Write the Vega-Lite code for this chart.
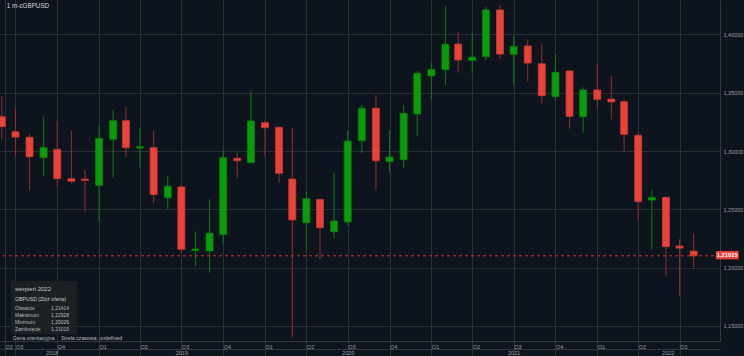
{
  "$schema": "https://vega.github.io/schema/vega-lite/v6.json",
  "width": 720,
  "height": 341,
  "autosize": "none",
  "padding": {"left": 0, "top": 0, "right": 24, "bottom": 15},
  "background": "#0e141d",
  "config": {"view": {"stroke": null}, "font": "Liberation Sans"},
  "data": {"values": [
    {"date": "2018-06-01T00:00", "open": 1.3295, "high": 1.3472, "low": 1.3101, "close": 1.3209},
    {"date": "2018-07-01T00:00", "open": 1.3166, "high": 1.3367, "low": 1.2960, "close": 1.3120},
    {"date": "2018-08-01T00:00", "open": 1.3118, "high": 1.3146, "low": 1.2660, "close": 1.2952},
    {"date": "2018-09-01T00:00", "open": 1.2943, "high": 1.3295, "low": 1.2786, "close": 1.3029},
    {"date": "2018-10-01T00:00", "open": 1.3015, "high": 1.3258, "low": 1.2694, "close": 1.2763},
    {"date": "2018-11-01T00:00", "open": 1.2763, "high": 1.3175, "low": 1.2723, "close": 1.2741},
    {"date": "2018-12-01T00:00", "open": 1.2760, "high": 1.2838, "low": 1.2475, "close": 1.2749},
    {"date": "2019-01-01T00:00", "open": 1.2706, "high": 1.3217, "low": 1.2394, "close": 1.3109},
    {"date": "2019-02-01T00:00", "open": 1.3101, "high": 1.3352, "low": 1.2772, "close": 1.3260},
    {"date": "2019-03-01T00:00", "open": 1.3260, "high": 1.3380, "low": 1.2946, "close": 1.3029},
    {"date": "2019-04-01T00:00", "open": 1.3026, "high": 1.3195, "low": 1.2861, "close": 1.3037},
    {"date": "2019-05-01T00:00", "open": 1.3029, "high": 1.3175, "low": 1.2557, "close": 1.2626},
    {"date": "2019-06-01T00:00", "open": 1.2600, "high": 1.2786, "low": 1.2503, "close": 1.2698},
    {"date": "2019-07-01T00:00", "open": 1.2692, "high": 1.2703, "low": 1.2120, "close": 1.2157},
    {"date": "2019-08-01T00:00", "open": 1.2146, "high": 1.2308, "low": 1.2014, "close": 1.2160},
    {"date": "2019-09-01T00:00", "open": 1.2143, "high": 1.2586, "low": 1.1957, "close": 1.2295},
    {"date": "2019-10-01T00:00", "open": 1.2283, "high": 1.3009, "low": 1.2203, "close": 1.2943},
    {"date": "2019-11-01T00:00", "open": 1.2938, "high": 1.2986, "low": 1.2766, "close": 1.2917},
    {"date": "2019-12-01T00:00", "open": 1.2900, "high": 1.3515, "low": 1.2900, "close": 1.3258},
    {"date": "2020-01-01T00:00", "open": 1.3243, "high": 1.3260, "low": 1.2952, "close": 1.3200},
    {"date": "2020-02-01T00:00", "open": 1.3204, "high": 1.3210, "low": 1.2729, "close": 1.2809},
    {"date": "2020-03-01T00:00", "open": 1.2760, "high": 1.3198, "low": 1.1403, "close": 1.2409},
    {"date": "2020-04-01T00:00", "open": 1.2386, "high": 1.2649, "low": 1.2145, "close": 1.2591},
    {"date": "2020-05-01T00:00", "open": 1.2586, "high": 1.2595, "low": 1.2072, "close": 1.2343},
    {"date": "2020-06-01T00:00", "open": 1.2308, "high": 1.2814, "low": 1.2252, "close": 1.2400},
    {"date": "2020-07-01T00:00", "open": 1.2392, "high": 1.3172, "low": 1.2360, "close": 1.3086},
    {"date": "2020-08-01T00:00", "open": 1.3089, "high": 1.3395, "low": 1.2981, "close": 1.3367},
    {"date": "2020-09-01T00:00", "open": 1.3367, "high": 1.3481, "low": 1.2672, "close": 1.2917},
    {"date": "2020-10-01T00:00", "open": 1.2909, "high": 1.3175, "low": 1.2814, "close": 1.2949},
    {"date": "2020-11-01T00:00", "open": 1.2926, "high": 1.3395, "low": 1.2857, "close": 1.3324},
    {"date": "2020-12-01T00:00", "open": 1.3318, "high": 1.3687, "low": 1.3132, "close": 1.3667},
    {"date": "2021-01-01T00:00", "open": 1.3644, "high": 1.3761, "low": 1.3446, "close": 1.3701},
    {"date": "2021-02-01T00:00", "open": 1.3698, "high": 1.4247, "low": 1.3566, "close": 1.3916},
    {"date": "2021-03-01T00:00", "open": 1.3918, "high": 1.4018, "low": 1.3672, "close": 1.3781},
    {"date": "2021-04-01T00:00", "open": 1.3778, "high": 1.4010, "low": 1.3669, "close": 1.3806},
    {"date": "2021-05-01T00:00", "open": 1.3809, "high": 1.4238, "low": 1.3781, "close": 1.4210},
    {"date": "2021-06-01T00:00", "open": 1.4210, "high": 1.4255, "low": 1.3787, "close": 1.3832},
    {"date": "2021-07-01T00:00", "open": 1.3830, "high": 1.3987, "low": 1.3572, "close": 1.3898},
    {"date": "2021-08-01T00:00", "open": 1.3901, "high": 1.3958, "low": 1.3598, "close": 1.3755},
    {"date": "2021-09-01T00:00", "open": 1.3749, "high": 1.3916, "low": 1.3410, "close": 1.3475},
    {"date": "2021-10-01T00:00", "open": 1.3466, "high": 1.3832, "low": 1.3432, "close": 1.3675},
    {"date": "2021-11-01T00:00", "open": 1.3687, "high": 1.3695, "low": 1.3192, "close": 1.3298},
    {"date": "2021-12-01T00:00", "open": 1.3295, "high": 1.3547, "low": 1.3157, "close": 1.3524},
    {"date": "2022-01-01T00:00", "open": 1.3524, "high": 1.3749, "low": 1.3358, "close": 1.3444},
    {"date": "2022-02-01T00:00", "open": 1.3446, "high": 1.3644, "low": 1.3272, "close": 1.3421},
    {"date": "2022-03-01T00:00", "open": 1.3423, "high": 1.3444, "low": 1.3000, "close": 1.3144},
    {"date": "2022-04-01T00:00", "open": 1.3135, "high": 1.3163, "low": 1.2409, "close": 1.2566},
    {"date": "2022-05-01T00:00", "open": 1.2580, "high": 1.2666, "low": 1.2157, "close": 1.2603},
    {"date": "2022-06-01T00:00", "open": 1.2603, "high": 1.2614, "low": 1.1931, "close": 1.2180},
    {"date": "2022-07-01T00:00", "open": 1.2186, "high": 1.2243, "low": 1.1759, "close": 1.2168},
    {"date": "2022-08-01T00:00", "open": 1.21414, "high": 1.22928, "low": 1.20026, "close": 1.21015}
  ]},
  "resolve": {"axis": {"x": "independent"}},
  "layer": [
    {
      "mark": {"type": "rule", "strokeWidth": 1},
      "encoding": {
        "x": {
          "field": "date", "type": "temporal",
          "scale": {"domain": [{"year": 2018, "month": 6, "date": 8}, {"year": 2022, "month": 9, "date": 17}]},
          "axis": {
            "title": null,
            "orient": "bottom",
            "values": [
              {"year": 2018, "month": 6, "date": 8},
              {"year": 2018, "month": 7, "date": 1}, {"year": 2018, "month": 10, "date": 1},
              {"year": 2019, "month": 1, "date": 1}, {"year": 2019, "month": 4, "date": 1}, {"year": 2019, "month": 7, "date": 1}, {"year": 2019, "month": 10, "date": 1},
              {"year": 2020, "month": 1, "date": 1}, {"year": 2020, "month": 4, "date": 1}, {"year": 2020, "month": 7, "date": 1}, {"year": 2020, "month": 10, "date": 1},
              {"year": 2021, "month": 1, "date": 1}, {"year": 2021, "month": 4, "date": 1}, {"year": 2021, "month": 7, "date": 1}, {"year": 2021, "month": 10, "date": 1},
              {"year": 2022, "month": 1, "date": 1}, {"year": 2022, "month": 4, "date": 1}, {"year": 2022, "month": 7, "date": 1}
            ],
            "labelExpr": "'Q' + (floor(month(datum.value) / 3) + 1)",
            "labelAlign": "left",
            "labelDx": 1.5,
            "labelBaseline": "top",
            "labelPadding": -12,
            "labelFontSize": 5.5,
            "labelColor": "#9a9ea6",
            "labelOverlap": false,
            "labelFlush": false,
            "labelBound": false,
            "grid": true,
            "gridColor": "#2b2f36",
            "gridWidth": 1,
            "ticks": true,
            "tickSize": 15,
            "tickColor": "#2b2f36",
            "domain": true,
            "domainColor": "#353941"
          }
        },
        "y": {
          "field": "low", "type": "quantitative",
          "scale": {"domain": [1.1371, 1.42955], "nice": false, "zero": false},
          "axis": {
            "title": null,
            "orient": "right",
            "values": [1.15, 1.175, 1.2, 1.225, 1.25, 1.275, 1.3, 1.325, 1.35, 1.375, 1.4, 1.425],
            "labelExpr": "replace(format(datum.value, '.5f'), '.', ',')",
            "labelFontSize": 5.5,
            "labelColor": "#9a9ea6",
            "labelPadding": 3,
            "labelBaseline": "middle",
            "ticks": false,
            "grid": true,
            "gridColor": "#2b2f36",
            "gridWidth": 1,
            "domain": true,
            "domainColor": "#353941"
          }
        },
        "y2": {"field": "high"},
        "color": {"condition": {"test": "datum.close >= datum.open", "value": "#127a12"}, "value": "#8e302c"}
      }
    },
    {
      "mark": {"type": "bar", "width": 7, "strokeWidth": 0.8},
      "encoding": {
        "x": {
          "field": "date", "type": "temporal",
          "axis": {
            "title": null,
            "orient": "bottom",
            "values": [
              {"year": 2018, "month": 9, "date": 19},
              {"year": 2019, "month": 7, "date": 1},
              {"year": 2020, "month": 7, "date": 1},
              {"year": 2021, "month": 7, "date": 1},
              {"year": 2022, "month": 6, "date": 5}
            ],
            "labelExpr": "timeFormat(datum.value, '%Y')",
            "offset": 8,
            "labelAlign": "center",
            "labelBaseline": "top",
            "labelPadding": 1.5,
            "labelFontSize": 5.5,
            "labelColor": "#9a9ea6",
            "labelOverlap": false,
            "labelFlush": false,
            "grid": false,
            "ticks": false,
            "domain": true,
            "domainColor": "#353941"
          }
        },
        "y": {"field": "open", "type": "quantitative"},
        "y2": {"field": "close"},
        "fill": {"condition": {"test": "datum.close >= datum.open", "value": "#0a9c0a"}, "value": "#e8433a"},
        "stroke": {"condition": {"test": "datum.close >= datum.open", "value": "#0a820a"}, "value": "#c93a32"}
      }
    },
    {
      "data": {"values": [{}]},
      "mark": {"type": "rule", "strokeDash": [3, 3], "color": "#c83a32", "strokeWidth": 1},
      "encoding": {"y": {"datum": 1.21015, "type": "quantitative"}}
    },
    {
      "data": {"values": [{}]},
      "mark": {"type": "rect", "color": "#e8433a"},
      "encoding": {
        "x": {"datum": {"year": 2022, "month": 9, "date": 19}, "type": "temporal", "axis": null},
        "x2": {"datum": {"year": 2022, "month": 11, "date": 8}},
        "y": {"datum": 1.21428, "type": "quantitative"},
        "y2": {"datum": 1.20716}
      }
    },
    {
      "data": {"values": [{}]},
      "mark": {"type": "text", "text": "1,21015", "color": "#ffffff", "fontSize": 5.8, "fontWeight": "bold", "align": "center", "baseline": "middle"},
      "encoding": {
        "x": {"datum": {"year": 2022, "month": 10, "date": 14}, "type": "temporal", "axis": null},
        "y": {"datum": 1.21072, "type": "quantitative"}
      }
    },
    {
      "data": {"values": [{}]},
      "mark": {"type": "text", "text": "1 m-cGBPUSD", "color": "#d2d4d8", "fontSize": 6.3, "align": "left", "baseline": "middle"},
      "encoding": {
        "x": {"datum": {"year": 2018, "month": 6, "date": 12}, "type": "temporal", "axis": null},
        "y": {"datum": 1.4241, "type": "quantitative"}
      }
    },
    {
      "data": {"values": [{}]},
      "mark": {"type": "rect", "color": "#1e2024", "opacity": 0.95},
      "encoding": {
        "x": {"datum": {"year": 2018, "month": 6, "date": 21}, "type": "temporal", "axis": null},
        "x2": {"datum": {"year": 2018, "month": 11, "date": 13}},
        "y": {"datum": 1.18855, "type": "quantitative"},
        "y2": {"datum": 1.1431}
      }
    },
    {
      "data": {"values": [{}]},
      "mark": {"type": "text", "text": "sierpień 2022", "color": "#c8cacd", "fontSize": 6, "align": "left", "baseline": "middle"},
      "encoding": {
        "x": {"datum": {"year": 2018, "month": 6, "date": 30}, "type": "temporal", "axis": null},
        "y": {"datum": 1.18143, "type": "quantitative"}
      }
    },
    {
      "data": {"values": [{}]},
      "mark": {"type": "text", "text": "GBPUSD (Złóż ofertę)", "color": "#c8cacd", "fontSize": 5.2, "align": "left", "baseline": "middle"},
      "encoding": {
        "x": {"datum": {"year": 2018, "month": 6, "date": 30}, "type": "temporal", "axis": null},
        "y": {"datum": 1.17311, "type": "quantitative"}
      }
    },
    {
      "data": {"values": [{}]},
      "mark": {"type": "text", "text": ["Otwarcie", "Maksimum", "Minimum", "Zamknięcie"], "lineHeight": 7.2, "color": "#b8babd", "fontSize": 5, "align": "left", "baseline": "middle"},
      "encoding": {
        "x": {"datum": {"year": 2018, "month": 6, "date": 30}, "type": "temporal", "axis": null},
        "y": {"datum": 1.16565, "type": "quantitative"}
      }
    },
    {
      "data": {"values": [{}]},
      "mark": {"type": "text", "text": ["1,21414", "1,22928", "1,20026", "1,21015"], "lineHeight": 7.2, "color": "#b8babd", "fontSize": 5, "align": "right", "baseline": "middle"},
      "encoding": {
        "x": {"datum": {"year": 2018, "month": 10, "date": 27}, "type": "temporal", "axis": null},
        "y": {"datum": 1.16565, "type": "quantitative"}
      }
    },
    {
      "data": {"values": [{}]},
      "mark": {"type": "text", "text": "Cena orientacyjna", "color": "#b8babd", "fontSize": 5.2, "align": "left", "baseline": "middle"},
      "encoding": {
        "x": {"datum": {"year": 2018, "month": 6, "date": 25}, "type": "temporal", "axis": null},
        "y": {"datum": 1.13941, "type": "quantitative"}
      }
    },
    {
      "data": {"values": [{}]},
      "mark": {"type": "text", "text": "Strefa czasowa: undefined", "color": "#b8babd", "fontSize": 5.2, "align": "left", "baseline": "middle"},
      "encoding": {
        "x": {"datum": {"year": 2018, "month": 10, "date": 9}, "type": "temporal", "axis": null},
        "y": {"datum": 1.13941, "type": "quantitative"}
      }
    }
  ]
}
